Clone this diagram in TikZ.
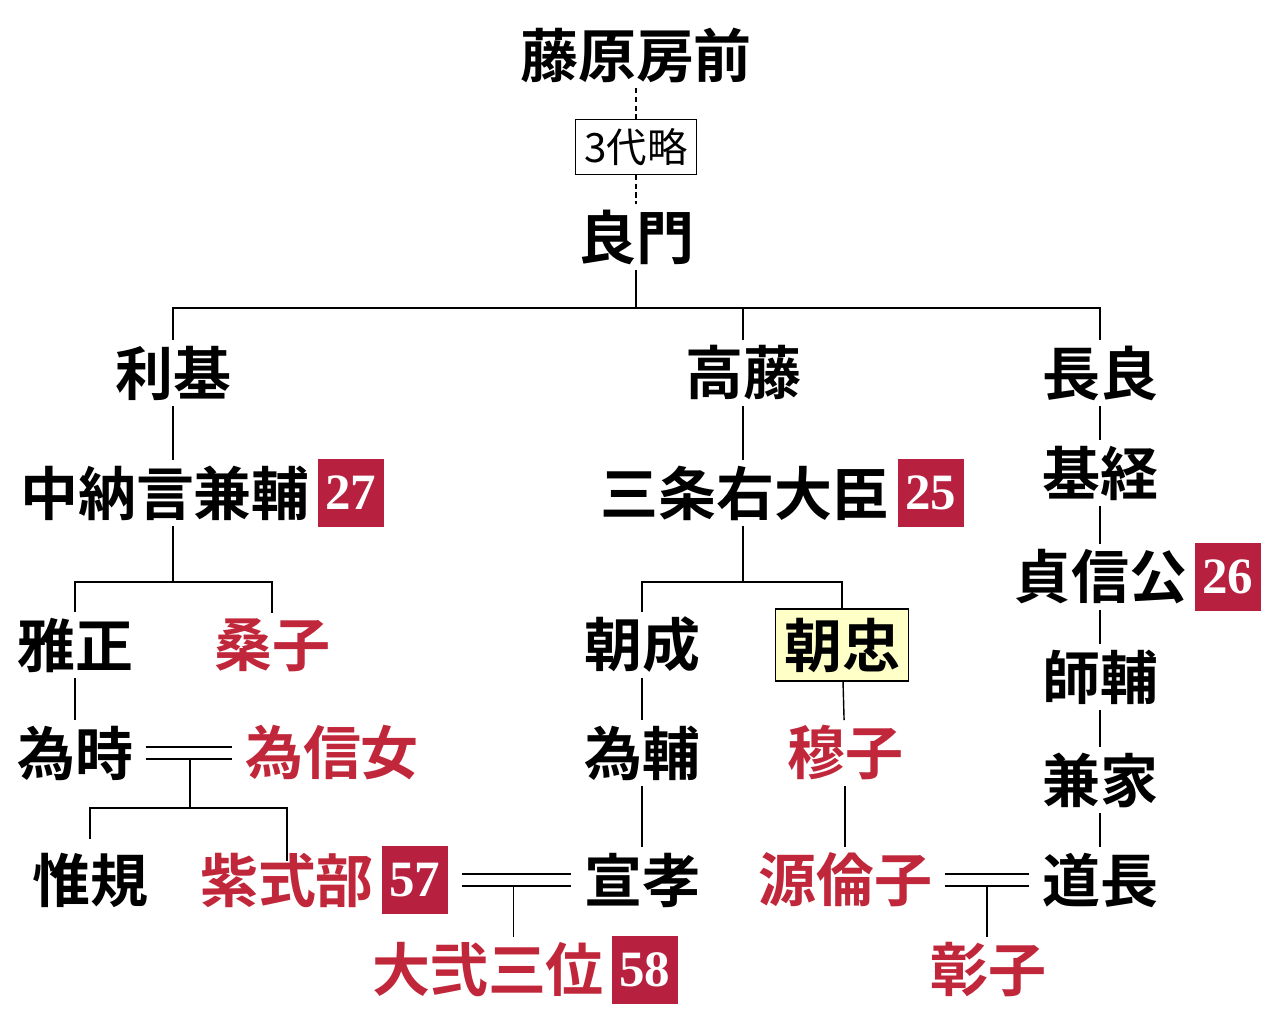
\documentclass[tikz,border=0pt]{standalone}
\usepackage{fontspec}
\newfontfamily\cjk{Noto Sans CJK JP}[BoldFont={* Bold}]
\newfontfamily\numfont{Liberation Serif}
\usetikzlibrary{positioning}
\definecolor{famred}{HTML}{C1273A}
\definecolor{badgered}{HTML}{B8203F}
\definecolor{notebg}{HTML}{FFFFC8}
\tikzset{
  person/.style={font=\cjk\bfseries\fontsize{33}{33}\selectfont,inner sep=3pt},
  lady/.style={person,text=famred},
  badge/.style={fill=badgered,text=white,font=\numfont\bfseries\fontsize{29}{29}\selectfont,
    minimum height=1.36cm,minimum width=1.32cm,inner sep=2pt},
  omit/.style={draw,font=\cjk\fontsize{23}{23}\selectfont,inner sep=5pt,fill=white},
  link/.style={line width=0.8pt},
  wed/.style={line width=0.8pt,double distance=6pt,shorten <=8pt,shorten >=4pt}
}
\begin{document}
\begin{tikzpicture}[x=0.02cm,y=-0.02cm,line cap=butt]
\useasboundingbox (0,0) rectangle (1280,1024);

% generations
\node[person] (fusasaki) at (636,55) {藤原房前};
\node[omit] (omitted) at (636,147) {3代略};
\node[person] (yoshikado) at (636,237) {良門};

\node[person] (toshimoto) at (173,373) {利基};
\node[person] (takafuji) at (743,373) {高藤};
\node[person] (nagayoshi) at (1100,373) {長良};

\node[person] (kanesuke) at (165,493) {中納言兼輔};
\node[badge,right=1pt of kanesuke] (b27) {27};
\node[person] (sadakata) at (745,493) {三条右大臣};
\node[badge,right=1pt of sadakata] (b25) {25};

\node[person] (mototsune) at (1100,473) {基経};
\node[person] (teishinko) at (1100,577) {貞信公};
\node[badge,right=1pt of teishinko] (b26) {26};
\node[person] (morosuke) at (1100,677) {師輔};
\node[person] (kaneie) at (1100,780) {兼家};
\node[person] (michinaga) at (1100,880) {道長};

\node[person] (masatada) at (75,645) {雅正};
\node[lady] (kuwako) at (272,645) {桑子};
\node[person] (tametoki) at (75,753) {為時};
\node[lady] (tamenobu) at (332,753) {為信女};
\node[person] (nobunori) at (90,880) {惟規};
\node[lady] (murasaki) at (287,880) {紫式部};
\node[badge,right=1pt of murasaki] (b57) {57};
\node[lady] (daini) at (488,970) {大弐三位};
\node[badge,right=1pt of daini] (b58) {58};

\node[person] (asahira) at (642,645) {朝成};
\node[person,draw,fill=notebg,line width=0.8pt,inner sep=5pt] (asatada) at (842,645) {朝忠};
\node[person] (tamesuke) at (642,753) {為輔};
\node[person] (nobutaka) at (642,880) {宣孝};
\node[lady] (bokushi) at (845,753) {穆子};
\node[lady] (rinshi) at (845,880) {源倫子};
\node[lady] (shoshi) at (988,970) {彰子};

% junctions
\coordinate (bar1) at (636,308);
\coordinate (bar2) at (173,582);
\coordinate (bar3) at (743,582);
\coordinate (bar4) at (190,808);

% links
\draw[link,densely dashed] (fusasaki) -- (omitted);
\draw[link,densely dashed] (omitted) -- (yoshikado);
\draw[link] (yoshikado) -- (bar1);
\draw[link] (toshimoto.north) |- (bar1) -| (nagayoshi.north);
\draw[link] (takafuji.north) -- (takafuji.north |- bar1);

\draw[link] (toshimoto) -- (toshimoto |- kanesuke.north);
\draw[link] (takafuji) -- (takafuji |- sadakata.north);
\draw[link] (nagayoshi) -- (mototsune);
\draw[link] (mototsune) -- (teishinko);
\draw[link] (teishinko) -- (morosuke);
\draw[link] (morosuke) -- (kaneie);
\draw[link] (kaneie) -- (michinaga);

\draw[link] (bar2 |- kanesuke.south) -- (bar2);
\draw[link] (masatada.north) |- (bar2) -| (kuwako.north);
\draw[link] (masatada) -- (tametoki);
\draw[wed,shorten <=4pt] (tametoki) -- (tamenobu);
\draw[link] ([yshift=-3.4pt]bar4 |- tametoki.east) -- (bar4);
\draw[link] (nobunori.north) ++(0,-8) |- (bar4) -| ([yshift=-8]murasaki.north);

\draw[link] (bar3 |- sadakata.south) -- (bar3);
\draw[link] (asahira.north) |- (bar3) -| (asatada.north);
\draw[link] (asahira) -- (tamesuke);
\draw[link] (tamesuke) -- (nobutaka);
\draw[link] (asatada) -- (bokushi);
\draw[link] (bokushi) -- (rinshi);

\draw[wed] (b57) -- (nobutaka) coordinate[pos=0.5] (m1);
\draw[link] ([yshift=-3.4pt]m1) -- (m1 |- daini.north);
\draw[wed,shorten <=4pt] (rinshi) -- (michinaga) coordinate[pos=0.5] (m2);
\draw[link] ([yshift=-3.4pt]m2) -- (m2 |- shoshi.north);
\end{tikzpicture}
\end{document}
